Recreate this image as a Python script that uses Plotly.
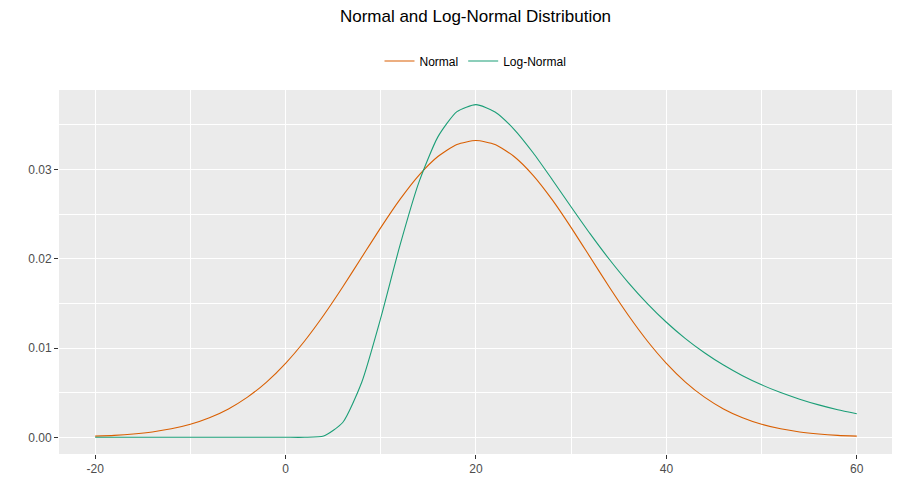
import plotly.graph_objects as go

# x grid the curves were read at
x_vals = list(range(-20, 61, 2))

# Normal density
normal_y = [0.00013, 0.00022, 0.00037, 0.00060, 0.00095, 0.00146, 0.00219, 0.00318,
            0.00450, 0.00619, 0.00829, 0.01079, 0.01367, 0.01683, 0.02016, 0.02349,
            0.02662, 0.02934, 0.03145, 0.03279, 0.03324, 0.03279, 0.03145, 0.02934,
            0.02662, 0.02349, 0.02016, 0.01683, 0.01367, 0.01079, 0.00829, 0.00619,
            0.00450, 0.00318, 0.00219, 0.00146, 0.00095, 0.00060, 0.00037, 0.00022,
            0.00013]

# Log-normal density
lognormal_y = [0.0, 0.0, 0.0, 0.0, 0.0, 0.0, 0.0, 0.0,
               0.0, 0.0, 0.0, 0.0, 0.00014, 0.00166, 0.00617, 0.01338,
               0.02144, 0.02855, 0.03365, 0.03648, 0.03726, 0.03644, 0.03450, 0.03187,
               0.02888, 0.02580, 0.02278, 0.01994, 0.01733, 0.01498, 0.01289, 0.01106,
               0.00947, 0.00809, 0.00690, 0.00588, 0.00501, 0.00427, 0.00363, 0.00309,
               0.00264]

series = {"Normal": (normal_y, "#D95F02"), "Log-Normal": (lognormal_y, "#1B9E77")}

fig = go.Figure()
for name, (yv, col) in series.items():
    fig.add_trace(go.Scatter(x=x_vals, y=yv, mode="lines", name=name,
                             line=dict(color=col, width=1.1, shape="spline",
                                       smoothing=0.6)))

axis_style = dict(
    showgrid=True, gridcolor="white", gridwidth=1.1,
    zeroline=False, showline=False, automargin=False,
    ticks="outside", ticklen=4, tickcolor="#333333", tickwidth=1,
    tickfont=dict(size=12, color="#4D4D4D"),
)

# page body has an 8px margin, so the figure is a bit smaller than the window
W, H = 892, 492

fig.update_layout(
    width=W, height=H,
    margin=dict(l=51, r=8, t=82, b=46),
    plot_bgcolor="#EBEBEB", paper_bgcolor="white",
    font=dict(family="Liberation Sans, Arial, sans-serif", color="black"),
    title=dict(text="Normal and Log-Normal Distribution", x=0.5, xref="paper",
               y=1 - 8 / H, yanchor="middle", font=dict(size=17, color="black")),
    legend=dict(orientation="h", x=0.5, xanchor="center", yref="container",
                y=1 - 53 / H, yanchor="middle", font=dict(size=12),
                bgcolor="rgba(0,0,0,0)", itemwidth=30),
    xaxis=dict(range=[-23.8, 63.7], tickvals=[-20, 0, 20, 40, 60],
               ticktext=["-20", "0", "20", "40", "60"],
               minor=dict(tickvals=[-10, 10, 30, 50], showgrid=True,
                          gridcolor="white", gridwidth=0.5, ticks=""),
               **axis_style),
    yaxis=dict(range=[-0.00187, 0.0389], tickvals=[0, 0.01, 0.02, 0.03],
               ticktext=["0.00", "0.01", "0.02", "0.03"],
               minor=dict(tickvals=[0.005, 0.015, 0.025, 0.035], showgrid=True,
                          gridcolor="white", gridwidth=0.5, ticks=""),
               **axis_style),
)

fig.write_html("out.html")
